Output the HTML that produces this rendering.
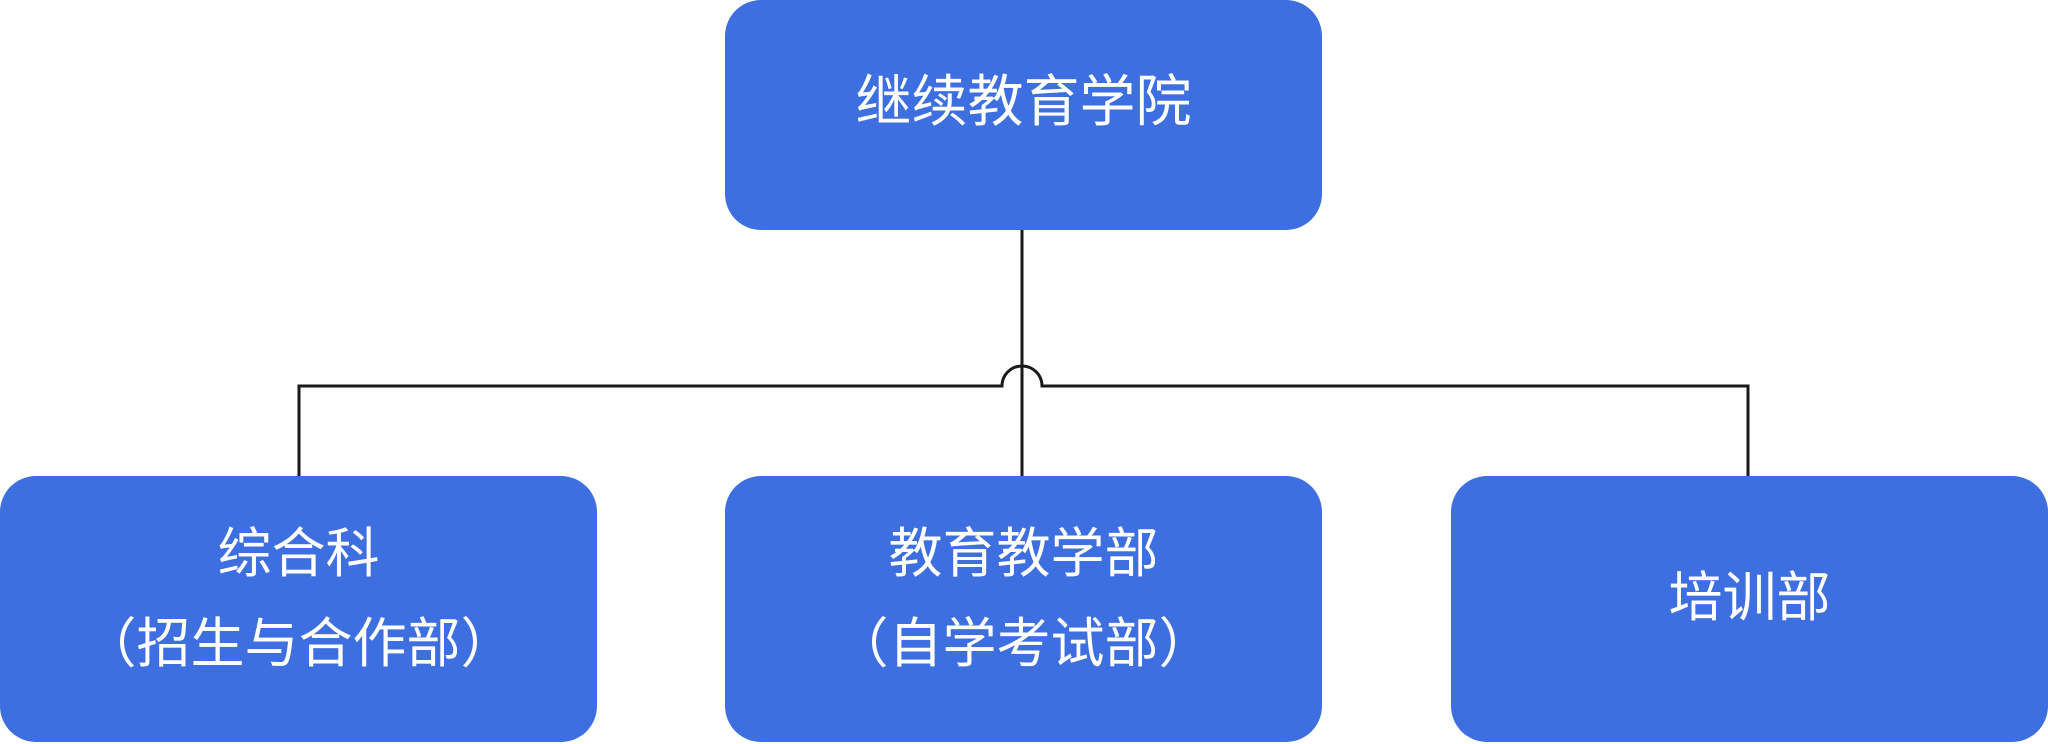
<!DOCTYPE html>
<html><head><meta charset="utf-8"><style>
html,body{margin:0;padding:0;background:#fff;width:2048px;height:744px;overflow:hidden;position:relative}
.b{position:absolute;background:#3e6fe0;border-radius:36px;color:#fff;display:flex;flex-direction:column;align-items:center;justify-content:center;font-family:"Liberation Sans","Noto Sans CJK SC",sans-serif;font-size:54px;line-height:90px;text-align:center;box-sizing:border-box}
</style></head><body>
<svg width="2048" height="744" style="position:absolute;left:0;top:0">
<g fill="none" stroke="#1a1a1a" stroke-width="3">
<line x1="1022" y1="228" x2="1022" y2="478"/>
<path d="M299 478 V386 H1002 A20 20 0 0 1 1042 386 H1748 V478"/>
</g></svg>
<div class="b" style="left:725px;top:0;width:597px;height:230px;font-size:56px;padding-bottom:26px">继续教育学院</div>
<div class="b" style="left:0;top:476px;width:597px;height:266px;padding-bottom:20px"><div>综合科</div><div>（招生与合作部）</div></div>
<div class="b" style="left:725px;top:476px;width:597px;height:266px;padding-bottom:20px"><div>教育教学部</div><div>（自学考试部）</div></div>
<div class="b" style="left:1451px;top:476px;width:597px;height:266px;padding-bottom:22px">培训部</div>
</body></html>
